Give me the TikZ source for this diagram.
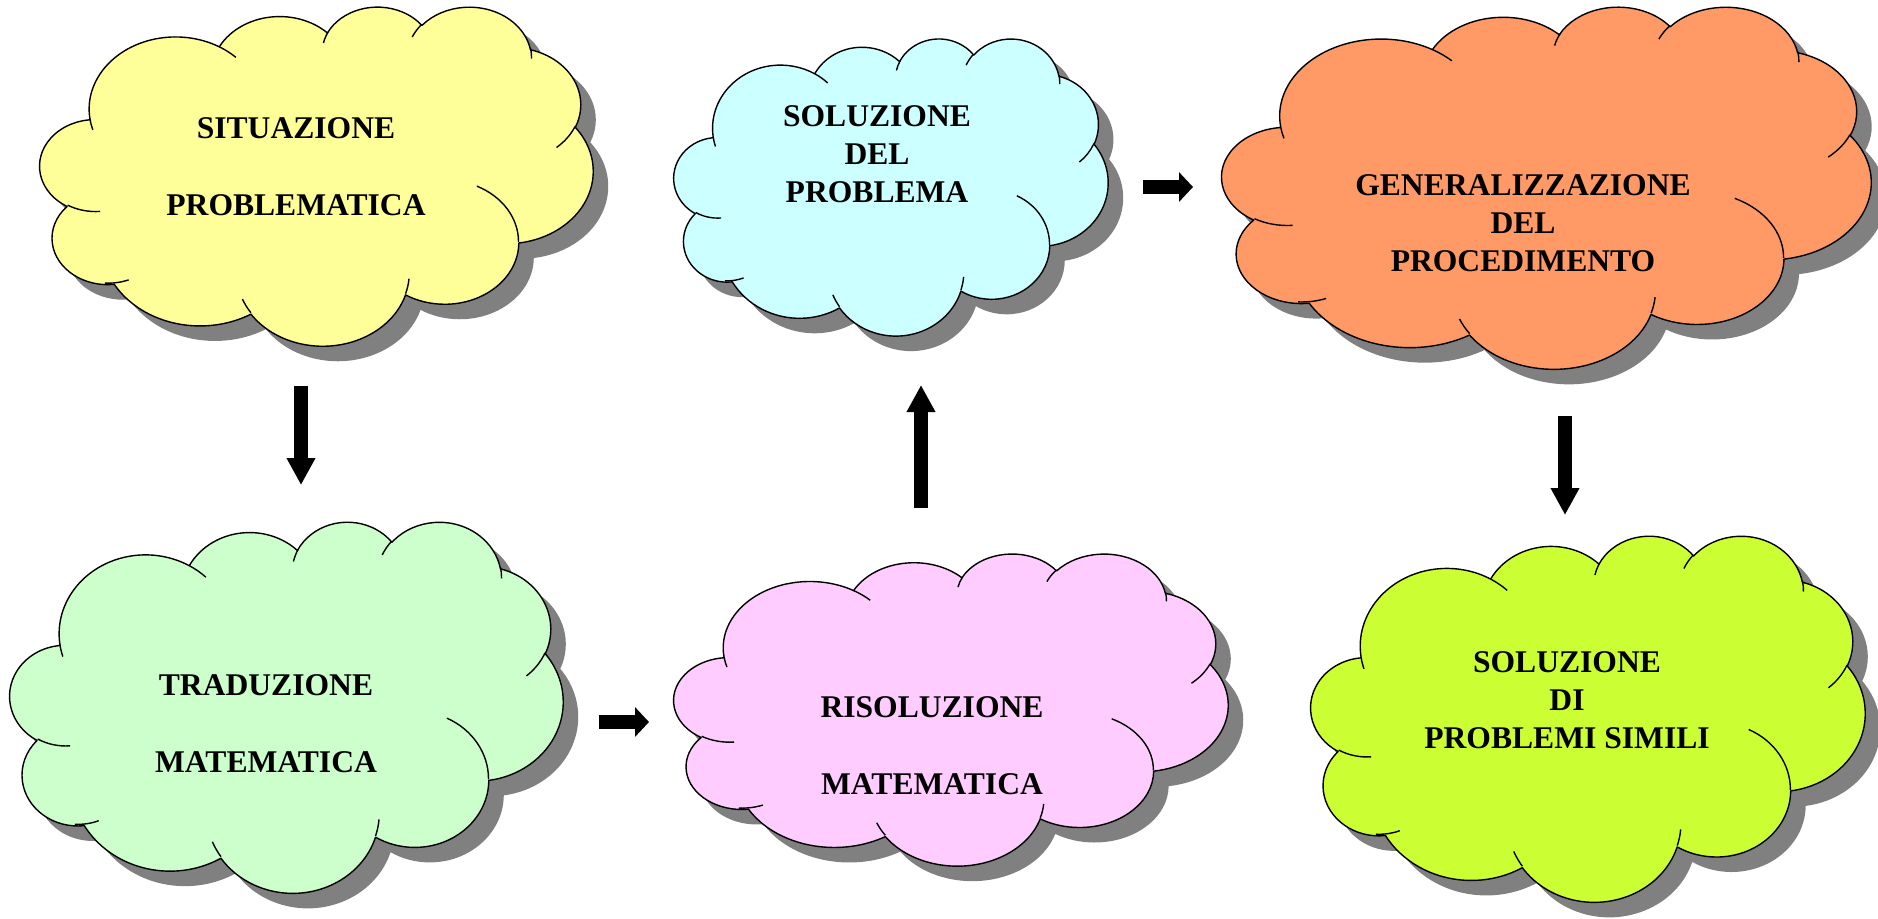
\documentclass[tikz,border=0pt]{standalone}
\usepackage{fontspec}
\setmainfont{Liberation Serif}
\usetikzlibrary{arrows.meta}
\definecolor{shadowgray}{HTML}{808080}
\definecolor{cyellow}{HTML}{FFFF99}
\definecolor{ccyan}{HTML}{CCFFFF}
\definecolor{corange}{HTML}{FF9966}
\definecolor{cgreen}{HTML}{CCFFCC}
\definecolor{cpink}{HTML}{FFCCFF}
\definecolor{clime}{HTML}{CCFF33}
% parametric angles of the elliptical arcs of the cloud outline
\newcommand\cpcalc[5]{%
  \pgfmathsetmacro\cpta{atan2((#2)*sin(#4),(#3)*cos(#4))}%
  \pgfmathsetmacro\cptb{atan2((#2)*sin((#4)+(#5)),(#3)*cos((#4)+(#5)))}%
  \pgfmathsetmacro\cptd{\cptb-\cpta}%
  \pgfmathsetmacro\cptd{\cptd+360*round(((#5)-\cptd)/360)}%
  \expandafter\xdef\csname cpS#1\endcsname{\cpta}%
  \expandafter\xdef\csname cpD#1\endcsname{\cptd}%
}
\def\cloudmainpath{(3.900,14.370)
  arc[x radius=6.753,y radius=9.190,start angle=\cpSa,delta angle=\cpDa]
  arc[x radius=5.333,y radius=7.267,start angle=\cpSb,delta angle=\cpDb]
  arc[x radius=4.365,y radius=5.945,start angle=\cpSc,delta angle=\cpDc]
  arc[x radius=4.857,y radius=6.595,start angle=\cpSd,delta angle=\cpDd]
  arc[x radius=5.333,y radius=7.273,start angle=\cpSe,delta angle=\cpDe]
  arc[x radius=6.775,y radius=9.220,start angle=\cpSf,delta angle=\cpDf]
  arc[x radius=5.785,y radius=7.867,start angle=\cpSg,delta angle=\cpDg]
  arc[x radius=6.752,y radius=9.215,start angle=\cpSh,delta angle=\cpDh]
  arc[x radius=7.720,y radius=10.543,start angle=\cpSi,delta angle=\cpDi]
  arc[x radius=4.360,y radius=5.918,start angle=\cpSj,delta angle=\cpDj]
  arc[x radius=4.345,y radius=5.945,start angle=\cpSk,delta angle=\cpDk]
  -- cycle}
\def\cloudinnerpath{
  (4.693,26.177) arc[x radius=4.345,y radius=5.945,start angle=\cpSia,delta angle=\cpDia]
  (6.928,34.899) arc[x radius=4.360,y radius=5.918,start angle=\cpSib,delta angle=\cpDib]
  (16.478,39.090) arc[x radius=6.752,y radius=9.215,start angle=\cpSic,delta angle=\cpDic]
  (28.827,34.751) arc[x radius=6.752,y radius=9.215,start angle=\cpSid,delta angle=\cpDid]
  (34.129,22.954) arc[x radius=5.785,y radius=7.867,start angle=\cpSie,delta angle=\cpDie]
  (41.798,15.354) arc[x radius=5.333,y radius=7.273,start angle=\cpSig,delta angle=\cpDig]
  (38.324,5.426) arc[x radius=4.857,y radius=6.595,start angle=\cpSih,delta angle=\cpDih]
  (29.078,3.952) arc[x radius=4.857,y radius=6.595,start angle=\cpSii,delta angle=\cpDii]
  (22.141,4.720) arc[x radius=4.365,y radius=5.945,start angle=\cpSij,delta angle=\cpDij]
  (14.000,5.192) arc[x radius=6.753,y radius=9.190,start angle=\cpSik,delta angle=\cpDik]
  (4.127,15.789) arc[x radius=6.753,y radius=9.190,start angle=\cpSil,delta angle=\cpDil]}
% name-free cloud drawing: x0 y0 w h fill
\newcommand\drawcloud[5]{%
  \begin{scope}[shift={(#1+15,#2+15)},xscale=#3/43.2,yscale=#4/43.2]
    \fill[cloudshadow] \cloudmainpath;
  \end{scope}
  \begin{scope}[shift={(#1,#2)},xscale=#3/43.2,yscale=#4/43.2]
    \filldraw[cloudline,fill=#5] \cloudmainpath;
    \draw[cloudline] \cloudinnerpath;
  \end{scope}}
\begin{document}
\cpcalc{a}{6.753}{9.190}{-190.4875}{123.7805}
\cpcalc{b}{5.333}{7.267}{-144.1024}{89.9452}
\cpcalc{c}{4.365}{5.945}{-145.8079}{99.7230}
\cpcalc{d}{4.857}{6.595}{-130.9861}{117.2417}
\cpcalc{e}{5.333}{7.273}{-78.7089}{109.0269}
\cpcalc{f}{6.775}{9.220}{-46.2673}{130.2690}
\cpcalc{g}{5.785}{7.867}{0.6250}{114.0333}
\cpcalc{h}{6.752}{9.215}{22.4516}{115.1726}
\cpcalc{i}{7.720}{10.543}{66.2426}{75.7110}
\cpcalc{j}{4.360}{5.918}{-274.9421}{146.7356}
\cpcalc{k}{4.345}{5.945}{-246.8285}{152.5189}
\cpcalc{ia}{4.345}{5.945}{86.7420}{26.4295}
\cpcalc{ib}{4.360}{5.918}{73.6105}{18.7760}
\cpcalc{ic}{6.752}{9.215}{137.6242}{14.0811}
\cpcalc{id}{6.752}{9.215}{6.4533}{15.9984}
\cpcalc{ie}{5.785}{7.867}{-70.2924}{70.9174}
\cpcalc{ig}{5.333}{7.273}{30.3180}{27.7515}
\cpcalc{ih}{4.857}{6.595}{-13.7443}{14.8589}
\cpcalc{ii}{4.857}{6.595}{-149.1815}{18.1954}
\cpcalc{ij}{4.365}{5.945}{-163.4943}{17.6864}
\cpcalc{ik}{6.753}{9.190}{-66.7070}{12.3194}
\cpcalc{il}{6.753}{9.190}{157.6544}{11.8582}
\begin{tikzpicture}[x=0.5pt,y=-0.5pt,
  cloudline/.style={draw=black,line width=0.7pt,line join=round},
  cloudshadow/.style={fill=shadowgray},
  lbl/.style={font=\bfseries\fontsize{15.8pt}{19pt}\selectfont,align=center,inner sep=0pt},
  varrow/.style={line width=7pt,-{Triangle[length=13.5pt,width=13.5pt]}},
  harrow/.style={line width=7pt,-{Triangle[length=7pt,width=14.5pt]}}]
\useasboundingbox[fill=white] (0,0) rectangle (1878,918);
% clouds
\drawcloud{40}{6}{553}{339}{cyellow}
\drawcloud{674}{38}{434}{297}{ccyan}
\drawcloud{1222}{6}{649}{362}{corange}
\drawcloud{10}{521}{553}{371}{cgreen}
\drawcloud{674}{553}{554}{312}{cpink}
\drawcloud{1311}{535}{554}{366}{clime}
% labels
\node[lbl] (sit) at (296,167) {SITUAZIONE\\[19.5pt]PROBLEMATICA};
\node[lbl] (sol) at (877,154) {SOLUZIONE\\DEL\\PROBLEMA};
\node[lbl] (gen) at (1523,223) {GENERALIZZAZIONE\\DEL\\PROCEDIMENTO};
\node[lbl] (tra) at (266,724) {TRADUZIONE\\[19.5pt]MATEMATICA};
\node[lbl] (ris) at (932,746) {RISOLUZIONE\\[19.5pt]MATEMATICA};
\node[lbl] (sim) at (1567,700) {SOLUZIONE\\DI\\PROBLEMI SIMILI};
% block arrows
\coordinate (a1s) at (301,386); \coordinate (a1e) at (301,485);
\coordinate (a2s) at (599,722); \coordinate (a2e) at (649,722);
\coordinate (a3s) at (921,508); \coordinate (a3e) at (921,385);
\coordinate (a4s) at (1143,187); \coordinate (a4e) at (1193,187);
\coordinate (a5s) at (1565,416); \coordinate (a5e) at (1565,515);
\draw[varrow] (a1s) -- (a1e);
\draw[harrow] (a2s) -- (a2e);
\draw[varrow] (a3s) -- (a3e);
\draw[harrow] (a4s) -- (a4e);
\draw[varrow] (a5s) -- (a5e);
\end{tikzpicture}
\end{document}
